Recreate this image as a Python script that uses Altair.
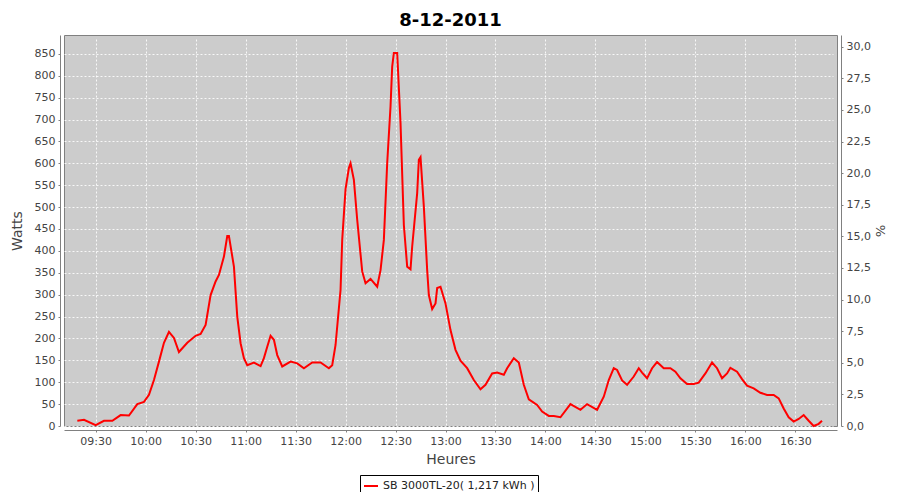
import altair as alt
import pandas as pd

# ---- data ----
times = ["09:19", "09:23", "09:30", "09:35", "09:40", "09:45", "09:50", "09:55", "09:59",
         "10:02", "10:05", "10:08", "10:11", "10:14", "10:17", "10:20", "10:25", "10:30",
         "10:33", "10:36", "10:39", "10:42", "10:44", "10:47", "10:49", "10:50", "10:53",
         "10:55", "10:57", "10:59", "11:01", "11:05", "11:09", "11:11", "11:13", "11:15",
         "11:17", "11:19", "11:22", "11:27", "11:31", "11:35", "11:40", "11:45", "11:50",
         "11:52", "11:54", "11:57", "11:58", "12:00", "12:02", "12:03", "12:05", "12:07",
         "12:10", "12:12", "12:15", "12:19", "12:21", "12:23", "12:25", "12:27", "12:28",
         "12:29", "12:31", "12:33", "12:35", "12:37", "12:39", "12:40", "12:43", "12:44",
         "12:45", "12:47", "12:49", "12:50", "12:52", "12:54", "12:55", "12:57", "13:00",
         "13:03", "13:06", "13:09", "13:13", "13:17", "13:21", "13:24", "13:28", "13:31",
         "13:35", "13:37", "13:41", "13:44", "13:47", "13:50", "13:55", "13:58", "14:02",
         "14:05", "14:09", "14:15", "14:21", "14:25", "14:31", "14:35", "14:38", "14:41",
         "14:43", "14:46", "14:49", "14:53", "14:56", "14:58", "15:01", "15:04", "15:07",
         "15:11", "15:15", "15:18", "15:21", "15:25", "15:29", "15:32", "15:36", "15:40",
         "15:43", "15:46", "15:49", "15:51", "15:55", "15:58", "16:01", "16:05", "16:09",
         "16:13", "16:17", "16:20", "16:23", "16:26", "16:29", "16:32", "16:35", "16:38",
         "16:41", "16:44", "16:46"]
watts = [12, 14, 2, 12, 12, 25, 24, 50, 55,
         71, 105, 147, 190, 215, 201, 169, 190, 206,
         210, 231, 299, 330, 345, 387, 434, 434, 364,
         250, 189, 155, 139, 145, 137, 155, 181, 206,
         197, 162, 136, 147, 143, 132, 145, 145, 132,
         139, 185, 311, 425, 541, 589, 600, 562, 471,
         353, 326, 336, 318, 356, 425, 600, 730, 821,
         852, 852, 692, 459, 364, 358, 410, 532, 608,
         614, 501, 356, 299, 267, 280, 315, 318, 280,
         219, 174, 149, 132, 105, 84, 94, 120, 122,
         117, 132, 155, 145, 94, 61, 48, 33, 23,
         23, 20, 50, 37, 50, 37, 67, 105, 132,
         128, 104, 94, 113, 132, 122, 109, 132, 146,
         132, 132, 124, 109, 96, 96, 99, 120, 145,
         132, 109, 120, 133, 124, 107, 92, 86, 76,
         71, 71, 63, 40, 20, 10, 16, 25, 12,
         0, 5, 12]
series_name = "SB 3000TL-20( 1,217 kWh )"
chart_title = "8-12-2011"
watt_ticks = list(range(0, 851, 50))
pct_ticks = [0, 2.5, 5, 7.5, 10, 12.5, 15, 17.5, 20, 22.5, 25, 27.5, 30]
time_ticks = ["09:30", "10:00", "10:30", "11:00", "11:30", "12:00", "12:30", "13:00",
              "13:30", "14:00", "14:30", "15:00", "15:30", "16:00", "16:30"]


def to_min(t):
    h, m = t.split(":")
    return int(h) * 60 + int(m)


df = pd.DataFrame({"minute": [to_min(t) for t in times], "watts": watts, "serie": series_name})
pct_df = pd.DataFrame({"pct": pct_ticks})

time_label = "format(floor(datum.value/60),'02d') + ':' + format(datum.value%60,'02d')"

x_enc = alt.X(
    "minute:Q",
    scale=alt.Scale(domain=[551, 1015], nice=False, zero=False),
    axis=alt.Axis(values=[to_min(t) for t in time_ticks], labelExpr=time_label,
                  title="Heures", titlePadding=6),
)

line = alt.Chart(df).mark_line(strokeWidth=2).encode(
    x=x_enc,
    y=alt.Y("watts:Q", scale=alt.Scale(domain=[0, 893], nice=False),
            axis=alt.Axis(orient="left", values=watt_ticks, format="d", title="Watts",
                          titlePadding=10)),
    color=alt.Color("serie:N", scale=alt.Scale(range=["#ff0000"]),
                    legend=alt.Legend(title=None, orient="none", legendX=296, legendY=440,
                                      strokeColor="black", fillColor="white", padding=3,
                                      cornerRadius=0, symbolType="stroke",
                                      symbolStrokeWidth=2, symbolSize=196,
                                      labelFont="DejaVu Sans", labelFontSize=11,
                                      labelColor="#222222", symbolOffset=0, labelLimit=200)),
)

right = alt.Chart(pct_df).mark_point(opacity=0).encode(
    y=alt.Y("pct:Q", scale=alt.Scale(domain=[0, 30.93], nice=False),
            axis=alt.Axis(orient="right", values=pct_ticks, grid=False,
                          labelExpr="replace(format(datum.value,'.1f'),'.',',')",
                          title="%", titleAngle=90, titlePadding=2, titleFontSize=13)),
)

chart = alt.layer(line, right).resolve_scale(y="independent").properties(
    width=773,
    height=391,
    background="white",
    autosize=alt.AutoSizeParams(type="none"),
    padding={"left": 56, "top": 27, "right": 55, "bottom": 66},
    title=alt.TitleParams(chart_title, font="DejaVu Sans", fontSize=18, fontWeight="bold",
                          color="black", anchor="middle", offset=5),
).configure_view(
    fill="#cccccc", stroke="#808080", strokeWidth=1
).configure_axis(
    domainColor="#808080", tickColor="#808080", tickSize=2, offset=4,
    labelColor="#444444", labelFont="DejaVu Sans", labelFontSize=11, labelPadding=3,
    titleColor="#444444", titleFont="DejaVu Sans", titleFontSize=14, titleFontWeight="normal",
    gridColor="#ffffff", gridDash=[2, 2], gridOpacity=0.85, gridWidth=1,
)

chart.save("out.html", embed_options={"renderer": "svg", "actions": False})
